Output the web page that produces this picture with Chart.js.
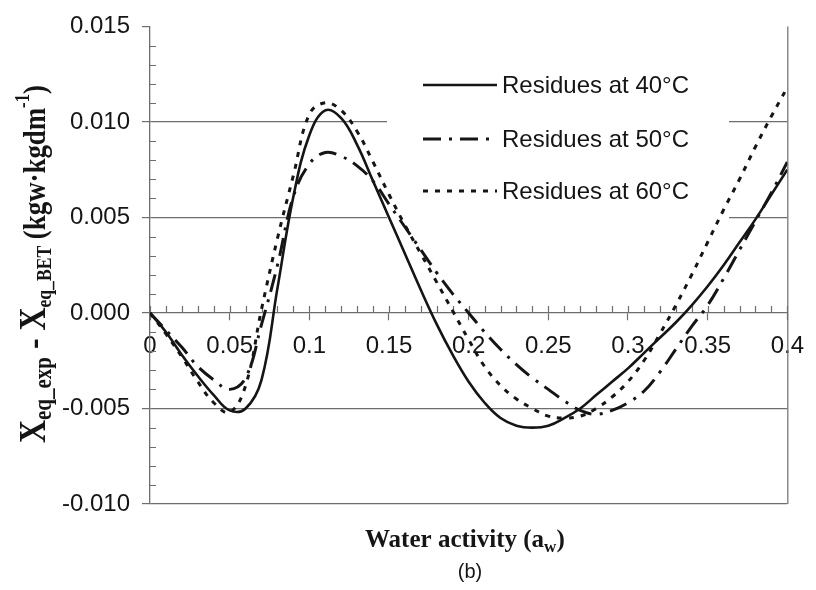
<!DOCTYPE html>
<html>
<head>
<meta charset="utf-8">
<title>BET residues</title>
<script src="https://cdn.jsdelivr.net/npm/chart.js@4.4.1/dist/chart.umd.min.js"></script>
<style>
  body { margin: 0; background: #fff; }
</style>
</head>
<body>
<canvas id="betChart" width="816" height="590"></canvas>
<script>
// water activity steps the residues were read at
const waterActivity = [
  0.00, 0.01, 0.02, 0.03, 0.04, 0.05, 0.06, 0.07, 0.08, 0.09,
  0.10, 0.11, 0.12, 0.13, 0.14, 0.15, 0.16, 0.17, 0.18, 0.19,
  0.20, 0.21, 0.22, 0.23, 0.24, 0.25, 0.26, 0.27, 0.28, 0.29,
  0.30, 0.31, 0.32, 0.33, 0.34, 0.35, 0.36, 0.37, 0.38, 0.39, 0.40
];

const residues40 = [
  0, -0.0010, -0.0022, -0.0033, -0.0043, -0.0051, -0.0050, -0.0035, 0.0013, 0.0061,
  0.0093, 0.0106, 0.0102, 0.0088, 0.0069, 0.0050, 0.0031, 0.0012, -0.0006, -0.0022,
  -0.0036, -0.0047, -0.0055, -0.0059, -0.0060, -0.0059, -0.0055, -0.0050, -0.0043, -0.0036,
  -0.0029, -0.0021, -0.0013, -0.0005, 0.0004, 0.0014, 0.0025, 0.0037, 0.0049, 0.0062, 0.0075
];

const residues50 = [
  0, -0.0009, -0.0018, -0.0028, -0.0035, -0.0040, -0.0034, -0.0006, 0.0025, 0.0061,
  0.0078, 0.0084, 0.0082, 0.0077, 0.0069, 0.0057, 0.0045, 0.0033, 0.0021, 0.0010,
  0.0000, -0.0010, -0.0019, -0.0027, -0.0034, -0.0040, -0.0046, -0.0051, -0.0053, -0.0051,
  -0.0047, -0.0041, -0.0031, -0.0019, -0.0007, 0.0004, 0.0018, 0.0033, 0.0048, 0.0063, 0.0079
];

const residues60 = [
  0, -0.0011, -0.0023, -0.0036, -0.0047, -0.0052, -0.0038, 0.0002, 0.0039, 0.0072,
  0.0104, 0.0110, 0.0106, 0.0095, 0.0079, 0.0062, 0.0046, 0.0031, 0.0016, 0.0001,
  -0.0014, -0.0028, -0.0038, -0.0045, -0.0050, -0.0054, -0.0055, -0.0054, -0.0050, -0.0044,
  -0.0036, -0.0025, -0.0011, 0.0004, 0.0020, 0.0037, 0.0054, 0.0070, 0.0087, 0.0103, 0.0118
];

const seriesNames = ["Residues at 40°C", "Residues at 50°C", "Residues at 60°C"];

const xMajorTicks = [0, 0.05, 0.1, 0.15, 0.2, 0.25, 0.3, 0.35, 0.4];
const xTickLabels = ["0", "0.05", "0.1", "0.15", "0.2", "0.25", "0.3", "0.35", "0.4"];
const yMajorTicks = [-0.010, -0.005, 0, 0.005, 0.010, 0.015];
const yTickLabels = ["-0.010", "-0.005", "0.000", "0.005", "0.010", "0.015"];
const yGridValues = [-0.010, -0.005, 0.005, 0.010];

const axisGray = "#6e6e6e";
const inkColor = "#151515";
const tickFont = { family: "'Liberation Sans', Arial, sans-serif", size: 24 };
const serif = "'Liberation Serif', 'Times New Roman', serif";

const findIn = (list, v) => list.findIndex(m => Math.abs(m - v) < 1e-7);
const toPoints = ys => waterActivity.map((x, i) => ({ x: x, y: ys[i] }));

// draws a run of text pieces (sub/superscripts) along the current x direction
function drawRuns(ctx, runs) {
  let pos = 0;
  runs.forEach(r => {
    ctx.font = r.font;
    ctx.fillText(r.text, pos, r.dy);
    pos += ctx.measureText(r.text).width;
  });
  return pos;
}
function runsWidth(ctx, runs) {
  let w = 0;
  runs.forEach(r => { ctx.font = r.font; w += ctx.measureText(r.text).width; });
  return w;
}

const extras = {
  id: "extras",
  beforeDatasetsDraw(chart) {
    const { ctx, chartArea, scales } = chart;
    const x = scales.x, y = scales.y;
    const y0 = y.getPixelForValue(0);
    ctx.save();
    // legend panel covers the grid lines
    ctx.fillStyle = "#fff";
    ctx.fillRect(387, 50, 342, 176);

    ctx.strokeStyle = axisGray;
    ctx.lineWidth = 1.2;
    ctx.beginPath();
    // small ticks on top of the zero axis
    x.ticks.forEach(t => {
      const px = Math.round(x.getPixelForValue(t.value)) + 0.5;
      ctx.moveTo(px, y0 - 7);
      ctx.lineTo(px, y0);
    });
    // minor ticks inside the left axis
    y.ticks.forEach(t => {
      if (findIn(yMajorTicks, t.value) >= 0) return;
      const py = Math.round(y.getPixelForValue(t.value)) + 0.5;
      ctx.moveTo(chartArea.left, py);
      ctx.lineTo(chartArea.left + 6, py);
    });
    // right frame line
    ctx.moveTo(chartArea.right + 0.5, chartArea.top);
    ctx.lineTo(chartArea.right + 0.5, chartArea.bottom);
    ctx.stroke();
    ctx.restore();
  },
  afterDraw(chart) {
    const ctx = chart.ctx;
    ctx.save();
    ctx.fillStyle = inkColor;

    // legend
    const rowsY = [85, 139, 191];
    chart.data.datasets.forEach((ds, i) => {
      ctx.strokeStyle = ds.borderColor;
      ctx.lineWidth = ds.borderWidth;
      ctx.setLineDash(ds.borderDash || []);
      ctx.beginPath();
      ctx.moveTo(423, rowsY[i]);
      ctx.lineTo(497, rowsY[i]);
      ctx.stroke();
      ctx.setLineDash([]);
      ctx.font = "24px " + tickFont.family;
      ctx.textBaseline = "middle";
      ctx.textAlign = "left";
      ctx.fillText(ds.label, 502, rowsY[i] + 1);
    });

    // y axis title, rotated
    ctx.textBaseline = "alphabetic";
    const yRuns = [
      { text: "X", font: "bold 38px " + serif, dy: 0 },
      { text: "eq_exp", font: "bold 25px " + serif, dy: 6 },
      { text: " - X", font: "bold 38px " + serif, dy: 0 },
      { text: "eq_BET", font: "bold 21px " + serif, dy: 6 },
      { text: " (kgw·kgdm", font: "bold 32px " + serif, dy: 0 },
      { text: "-1", font: "bold 20px " + serif, dy: -16 },
      { text: ")", font: "bold 32px " + serif, dy: 0 }
    ];
    const along = 358 / runsWidth(ctx, yRuns);
    ctx.save();
    ctx.translate(45, 443);
    ctx.rotate(-Math.PI / 2);
    ctx.scale(along, 1);
    drawRuns(ctx, yRuns);
    ctx.restore();

    // x axis title
    const xRuns = [
      { text: "Water activity ", font: "bold 25px " + serif, dy: 0 },
      { text: "(a", font: "bold 25px " + serif, dy: 0 },
      { text: "w", font: "bold 17px " + serif, dy: 5 },
      { text: ")", font: "bold 25px " + serif, dy: 0 }
    ];
    ctx.save();
    ctx.translate(365, 547);
    drawRuns(ctx, xRuns);
    ctx.restore();

    ctx.font = "20px " + tickFont.family;
    ctx.textAlign = "center";
    ctx.fillText("(b)", 470, 578);
    ctx.restore();
  }
};

new Chart(document.getElementById("betChart"), {
  type: "line",
  data: {
    datasets: [
      {
        label: seriesNames[0],
        data: toPoints(residues40),
        borderColor: inkColor,
        borderWidth: 2.6,
        pointRadius: 0,
        fill: false,
        tension: 0.4
      },
      {
        label: seriesNames[1],
        data: toPoints(residues50),
        borderColor: inkColor,
        borderWidth: 3,
        borderDash: [18, 8, 3, 8],
        pointRadius: 0,
        fill: false,
        tension: 0.4
      },
      {
        label: seriesNames[2],
        data: toPoints(residues60),
        borderColor: inkColor,
        borderWidth: 3,
        borderDash: [5, 7],
        pointRadius: 0,
        fill: false,
        tension: 0.4
      }
    ]
  },
  options: {
    responsive: false,
    animation: false,
    layout: { padding: { left: 0, top: 24, right: 19, bottom: 86 } },
    plugins: {
      legend: { display: false },
      tooltip: { enabled: false }
    },
    scales: {
      x: {
        type: "linear",
        min: 0,
        max: 0.4,
        position: { y: 0 },
        ticks: {
          stepSize: 0.01,
          autoSkip: false,
          maxRotation: 0,
          padding: 12,
          color: inkColor,
          font: tickFont,
          callback: v => {
            const i = findIn(xMajorTicks, v);
            return i < 0 ? "" : xTickLabels[i];
          }
        },
        grid: {
          drawOnChartArea: false,
          tickLength: 7,
          tickWidth: 1.2,
          tickColor: c => findIn(xMajorTicks, c.tick.value) < 0 ? "transparent" : axisGray
        },
        border: { color: axisGray, width: 1.3 }
      },
      y: {
        type: "linear",
        min: -0.010,
        max: 0.015,
        afterFit: s => { s.width = 150; },
        ticks: {
          stepSize: 0.001,
          autoSkip: false,
          padding: 12,
          color: inkColor,
          font: tickFont,
          callback: v => {
            const i = findIn(yMajorTicks, v);
            return i < 0 ? "" : yTickLabels[i];
          }
        },
        grid: {
          lineWidth: 1.2,
          tickLength: 8,
          tickWidth: 1.2,
          color: c => findIn(yGridValues, c.tick.value) < 0 ? "transparent" : axisGray,
          tickColor: c => findIn(yMajorTicks, c.tick.value) < 0 ? "transparent" : axisGray
        },
        border: { color: axisGray, width: 1.3 }
      }
    }
  },
  plugins: [extras]
});
</script>
</body>
</html>
